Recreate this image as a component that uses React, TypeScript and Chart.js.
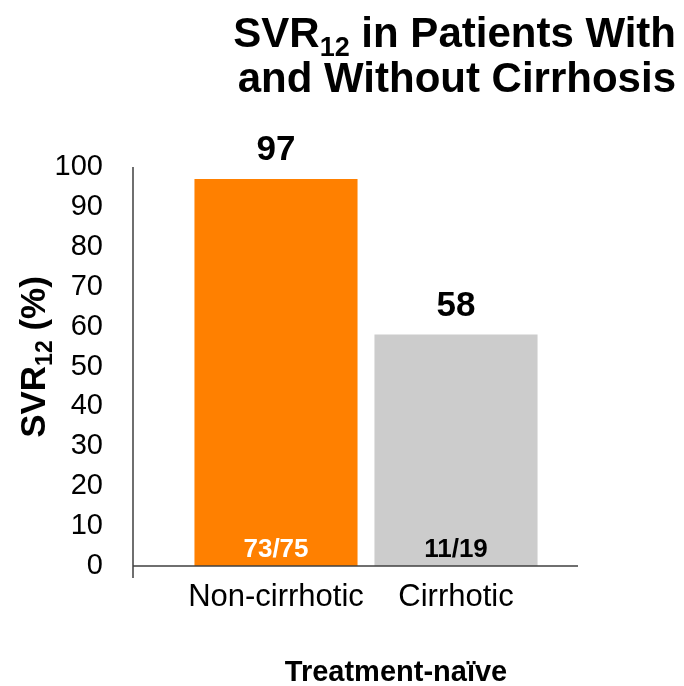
import React, { useEffect, useRef } from "react";
import { Chart, registerables } from "chart.js";

Chart.register(...registerables);

const CATEGORIES = ["Non-cirrhotic", "Cirrhotic"];
const SVR_VALUES = [97, 58];
const PATIENT_COUNTS = ["73/75", "11/19"];
const BAR_COLORS = ["#FF8000", "#CCCCCC"];
const COUNT_COLORS = ["#FFFFFF", "#000000"];
const Y_TICK_STEP = 10;
const Y_MAX = 100;
const TITLE_LINES = [
  [{ t: "SVR" }, { t: "12", sub: true }, { t: " in Patients With" }],
  [{ t: "and Without Cirrhosis" }],
];
const Y_TITLE = [{ t: "SVR" }, { t: "12", sub: true }, { t: " (%)" }];
const X_TITLE = "Treatment-naïve";

const FONT = "'Liberation Sans', Arial, Helvetica, sans-serif";

type Part = { t: string; sub?: boolean };

function richWidth(ctx: CanvasRenderingContext2D, parts: Part[], size: number, subSize: number) {
  let w = 0;
  for (const p of parts) {
    ctx.font = `bold ${p.sub ? subSize : size}px ${FONT}`;
    w += ctx.measureText(p.t).width;
  }
  return w;
}

function drawRich(
  ctx: CanvasRenderingContext2D,
  parts: Part[],
  x: number,
  y: number,
  size: number,
  subSize: number,
  subShift: number
) {
  let cx = x;
  ctx.textAlign = "left";
  ctx.textBaseline = "alphabetic";
  for (const p of parts) {
    ctx.font = `bold ${p.sub ? subSize : size}px ${FONT}`;
    ctx.fillText(p.t, cx, p.sub ? y + subShift : y);
    cx += ctx.measureText(p.t).width;
  }
}

const annotatePlugin = {
  id: "annotate",
  afterDraw(chart: any) {
    const ctx: CanvasRenderingContext2D = chart.ctx;
    const area = chart.chartArea;
    const yScale = chart.scales.y;
    const top = yScale.getPixelForValue(Y_MAX);
    const base = yScale.getPixelForValue(0);
    const axisX = area.left - 53;
    ctx.save();

    // axes
    ctx.strokeStyle = "#404040";
    ctx.lineWidth = 1.5;
    ctx.beginPath();
    ctx.moveTo(axisX, top);
    ctx.lineTo(axisX, base + 12);
    ctx.moveTo(axisX, base);
    ctx.lineTo(area.right + 32, base);
    ctx.stroke();

    // value labels and counts
    const meta = chart.getDatasetMeta(0);
    meta.data.forEach((el: any, i: number) => {
      ctx.fillStyle = "#000";
      ctx.textAlign = "center";
      ctx.textBaseline = "alphabetic";
      ctx.font = `bold 35px ${FONT}`;
      ctx.fillText(String(SVR_VALUES[i]), el.x, el.y - 19);
      ctx.fillStyle = COUNT_COLORS[i];
      ctx.font = `bold 26px ${FONT}`;
      ctx.fillText(PATIENT_COUNTS[i], el.x, base - 9);
    });

    // title
    ctx.fillStyle = "#000";
    const titleBaselines = [47, 92];
    TITLE_LINES.forEach((line, i) => {
      const w = richWidth(ctx, line, 42, 27);
      drawRich(ctx, line, 676 - w, titleBaselines[i], 42, 27, 9);
    });

    // y title
    ctx.save();
    ctx.translate(45, 357);
    ctx.rotate(-Math.PI / 2);
    const yw = richWidth(ctx, Y_TITLE, 35, 23);
    drawRich(ctx, Y_TITLE, -yw / 2, 0, 35, 23, 7);
    ctx.restore();

    // x title
    ctx.fillStyle = "#000";
    ctx.textAlign = "center";
    ctx.textBaseline = "alphabetic";
    ctx.font = `bold 29px ${FONT}`;
    ctx.fillText(X_TITLE, 396, 681);

    ctx.restore();
  },
};

export default function App() {
  const ref = useRef<HTMLCanvasElement>(null);
  useEffect(() => {
    if (!ref.current) return;
    const chart = new Chart(ref.current, {
      type: "bar",
      data: {
        labels: CATEGORIES,
        datasets: [
          {
            data: SVR_VALUES,
            backgroundColor: BAR_COLORS,
            borderWidth: 0,
            barPercentage: 0.906,
            categoryPercentage: 1,
          },
        ],
      },
      options: {
        responsive: false,
        animation: false,
        layout: { padding: { top: 167, left: 0, right: 138, bottom: 0 } },
        plugins: { legend: { display: false }, tooltip: { enabled: false }, title: { display: false } },
        scales: {
          x: {
            grid: { display: false, drawTicks: false },
            border: { display: false },
            ticks: { color: "#000", font: { family: FONT, size: 31 }, padding: 13, maxRotation: 0, autoSkip: false },
            afterFit: (s: any) => {
              s.height = 120;
            },
          },
          y: {
            min: 0,
            max: Y_MAX,
            grid: { display: false, drawTicks: false },
            border: { display: false },
            ticks: { stepSize: Y_TICK_STEP, color: "#000", font: { family: FONT, size: 29 }, padding: 83 },
            afterFit: (s: any) => {
              s.width = 186;
            },
          },
        },
      },
      plugins: [annotatePlugin],
    });
    return () => chart.destroy();
  }, []);
  return (
    <div style={{ position: "fixed", left: 0, top: 0, width: 684, height: 686, background: "#fff" }}>
      <canvas ref={ref} width={684} height={686} />
    </div>
  );
}
